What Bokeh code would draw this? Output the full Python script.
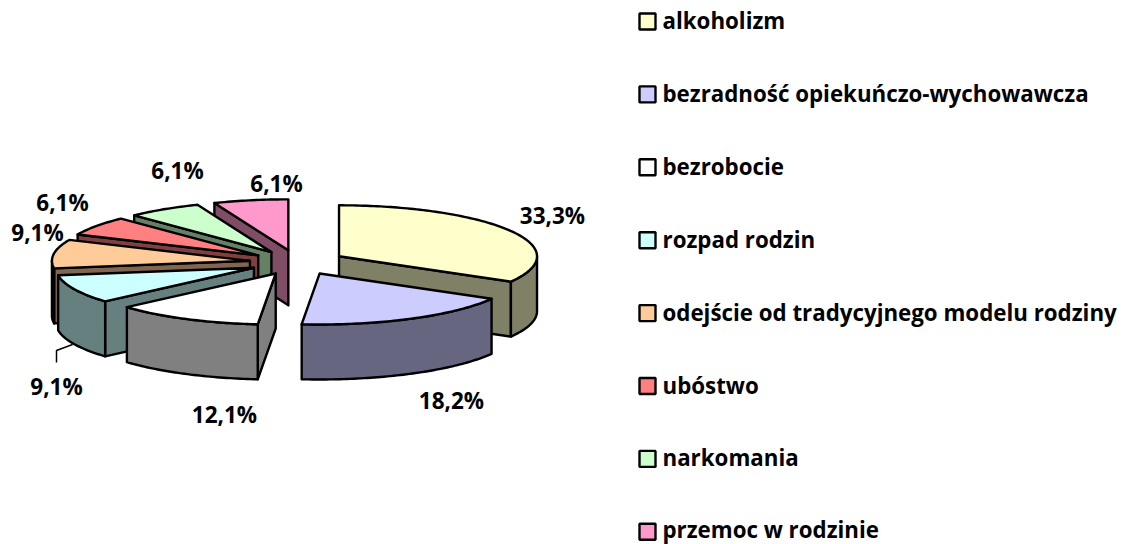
import math
from bokeh.plotting import figure
from bokeh.embed import file_html
from bokeh.resources import INLINE
from bokeh.core.properties import value

categories = ["alkoholizm", "bezradność opiekuńczo-wychowawcza", "bezrobocie", "rozpad rodzin",
              "odejście od tradycyjnego modelu rodziny", "ubóstwo", "narkomania", "przemoc w rodzinie"]
values = [33.3, 18.2, 12.1, 9.1, 9.1, 6.1, 6.1, 6.1]
labels = ["33,3%", "18,2%", "12,1%", "9,1%", "9,1%", "6,1%", "6,1%", "6,1%"]

top_colors = ["#FFFFCC", "#CCCCFF", "#FFFFFF", "#CCFFFF", "#FFCC99", "#FF8080", "#CCFFCC", "#FF99CC"]
wall_colors = ["#808066", "#666680", "#808080", "#668080", "#806650", "#804040", "#668066", "#804D66"]

# layout (page pixels)
CX, CY = 297, 262
RX, RY = 198, 51
DEPTH = 55
EXPLODE = 48
LABEL_X = [552, 451, 224, 56, 37, 62, 177, 276]
LABEL_Y = [215, 400, 414, 386, 232, 202, 170, 183]
LEG_X, LEG_Y0, LEG_DY = 647, 21, 72.9
FONT = "Open Sans"

W, H = 1125, 544
p = figure(width=W, height=H, x_range=(0, W), y_range=(H, 0), toolbar_location=None,
           output_backend="svg", min_border=0, outline_line_color=None)
p.axis.visible = False
p.grid.visible = False

total = sum(values)
edges = [0.0]
for v in values:
    edges.append(edges[-1] + v / total * 360)


def pt(c, a, dz=0):
    r = math.radians(a)
    return c[0] + RX * math.sin(r), c[1] - RY * math.cos(r) + dz


def arc(c, a0, a1, dz=0):
    n = max(2, int(abs(a1 - a0)) + 1)
    return [pt(c, a0 + (a1 - a0) * i / (n - 1), dz) for i in range(n)]


def poly(points, color):
    p.patch([q[0] for q in points], [q[1] for q in points], fill_color=color,
            line_color="black", line_width=2.4, line_join="round")


def draw(i):
    a0, a1 = edges[i], edges[i + 1]
    m = math.radians((a0 + a1) / 2)
    c = (CX + EXPLODE * math.sin(m), CY - EXPLODE * RY / RX * math.cos(m))
    cb = (c[0], c[1] + DEPTH)
    if math.sin(math.radians(a0)) < 0:
        e = pt(c, a0)
        poly([c, e, (e[0], e[1] + DEPTH), cb], wall_colors[i])
    if math.sin(math.radians(a1)) > 1e-9:
        e = pt(c, a1)
        poly([c, e, (e[0], e[1] + DEPTH), cb], wall_colors[i])
    w0, w1 = max(a0, 90), min(a1, 270)
    if w1 > w0:
        poly(arc(c, w0, w1) + arc(c, w1, w0, DEPTH), wall_colors[i])
    poly([c] + arc(c, a0, a1), top_colors[i])


for i in [7, 6, 5, 4, 3, 2, 0, 1]:
    draw(i)

# leader line of the lower 9,1% label
p.line([72, 56, 56], [344, 350, 362], line_color="black", line_width=1.5)

p.text(LABEL_X, LABEL_Y, text=labels, text_font=value(FONT), text_font_style="bold",
       text_font_size=value("22.5px"), text_align="center", text_baseline="middle", text_color="black")

leg_y = [LEG_Y0 + LEG_DY * i for i in range(len(categories))]
p.rect([LEG_X] * len(categories), leg_y, width=16, height=16, fill_color=top_colors,
       line_color="black", line_width=2.4)
p.text([LEG_X + 15] * len(categories), [min(y - 1, 528.5) for y in leg_y], text=categories,
       text_font=value(FONT), text_font_style="bold", text_font_size=value("22.3px"),
       text_align="left", text_baseline="middle", text_color="black")

open("out.html", "w").write(file_html(p, INLINE))
